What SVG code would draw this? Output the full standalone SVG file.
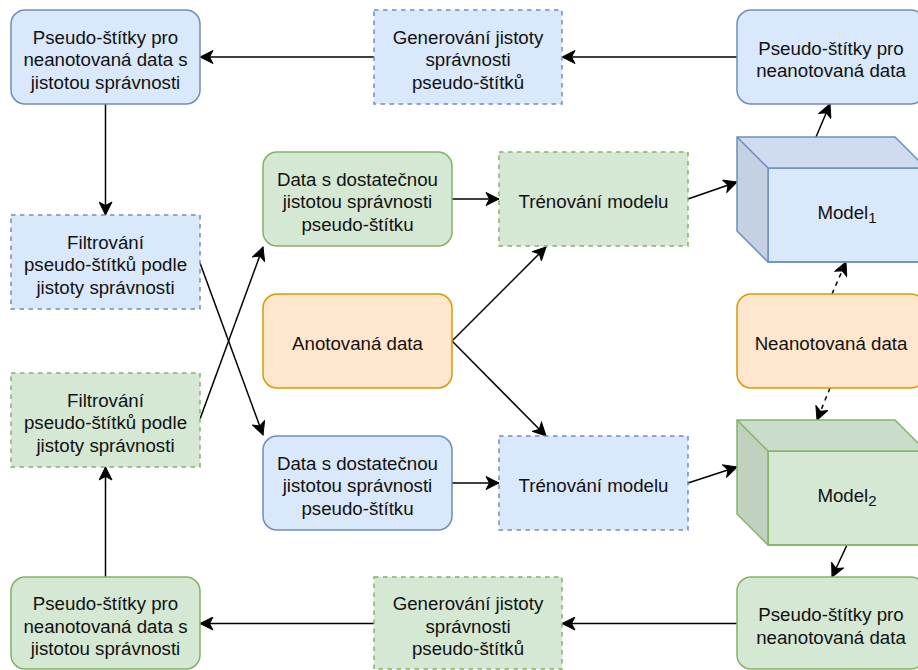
<svg xmlns="http://www.w3.org/2000/svg" width="918" height="670" viewBox="0 0 918 670">
  <style>
    text { font-family: "Liberation Sans", Arial, Helvetica, sans-serif; font-size: 18.7px; fill: #111; text-anchor: middle; }
    .blue { fill: #dae8fc; stroke: #6c8ebf; stroke-width: 1.5; }
    .green { fill: #d5e8d4; stroke: #82b366; stroke-width: 1.5; }
    .orange { fill: #ffe6cc; stroke: #d79b00; stroke-width: 1.5; }
    .dash { stroke-dasharray: 4.5 4.5; }
    .edge { fill: none; stroke: #000; stroke-width: 1.5; marker-end: url(#arrow); }
    .dashed { stroke-dasharray: 4.5 4.5; }
    .blueTop { fill: #cfdcef; } .blueSide { fill: #c4d1e3; }
    .greenTop { fill: #cadcca; } .greenSide { fill: #c0d1bf; }
  </style>
  <defs>
    <marker id="arrow" markerUnits="userSpaceOnUse" viewBox="-14 -7 15 14" refX="0" refY="0" markerWidth="15" markerHeight="14" orient="auto">
      <path d="M0,0 L-13,-6.5 L-9.5,0 L-13,6.5 Z" fill="#000" stroke="#000" stroke-width="1" stroke-dasharray="none"/>
    </marker>
  </defs>

  <!-- connectors -->
  <g id="edges">
    <line class="edge" x1="374" y1="57" x2="200" y2="57"/>
    <line class="edge" x1="737" y1="57" x2="562" y2="57"/>
    <line class="edge" x1="105.5" y1="104" x2="105.5" y2="215"/>
    <line class="edge" x1="200" y1="263" x2="263" y2="435"/>
    <line class="edge" x1="200" y1="419" x2="263" y2="247"/>
    <line class="edge" x1="452" y1="199" x2="499" y2="199"/>
    <line class="edge" x1="452" y1="341" x2="546" y2="247"/>
    <line class="edge" x1="452" y1="341" x2="546" y2="436"/>
    <line class="edge" x1="452" y1="483" x2="499" y2="483"/>
    <line class="edge" x1="688" y1="199" x2="737" y2="182"/>
    <line class="edge" x1="688" y1="483" x2="737" y2="467"/>
    <line class="edge" x1="816" y1="137" x2="830" y2="104"/>
    <line class="edge dashed" x1="832" y1="294" x2="846" y2="262"/>
    <line class="edge dashed" x1="830" y1="388" x2="817" y2="420"/>
    <line class="edge" x1="847" y1="545" x2="832" y2="577"/>
    <line class="edge" x1="737" y1="623.5" x2="562" y2="623.5"/>
    <line class="edge" x1="374" y1="623.5" x2="200" y2="623.5"/>
    <line class="edge" x1="105.5" y1="577" x2="105.5" y2="467"/>
  </g>

  <!-- top row -->
  <g id="pseudo-confident-1">
    <rect class="blue" x="11" y="10" width="189" height="94" rx="14"/>
    <text x="105.5" y="43.5">Pseudo-štítky pro</text>
    <text x="105.5" y="66">neanotovaná data s</text>
    <text x="105.5" y="88.5">jistotou správnosti</text>
  </g>
  <g id="confidence-1">
    <rect class="blue dash" x="374" y="10" width="188" height="94"/>
    <text x="468" y="43.5">Generování jistoty</text>
    <text x="468" y="66">správnosti</text>
    <text x="468" y="88.5">pseudo-štítků</text>
  </g>
  <g id="pseudo-1">
    <rect class="blue" x="737" y="10" width="188" height="94" rx="14"/>
    <text x="831" y="54.75">Pseudo-štítky pro</text>
    <text x="831" y="77.25">neanotovaná data</text>
  </g>

  <!-- filtering -->
  <g id="filter-1">
    <rect class="blue dash" x="11" y="215" width="189" height="94"/>
    <text x="105.5" y="248.5">Filtrování</text>
    <text x="105.5" y="271">pseudo-štítků podle</text>
    <text x="105.5" y="293.5">jistoty správnosti</text>
  </g>
  <g id="filter-2">
    <rect class="green dash" x="11" y="373" width="189" height="94"/>
    <text x="105.5" y="406.5">Filtrování</text>
    <text x="105.5" y="429">pseudo-štítků podle</text>
    <text x="105.5" y="451.5">jistoty správnosti</text>
  </g>

  <!-- selected data -->
  <g id="data-2">
    <rect class="green" x="263" y="152" width="189" height="94" rx="14"/>
    <text x="357.5" y="185.5">Data s dostatečnou</text>
    <text x="357.5" y="208">jistotou správnosti</text>
    <text x="357.5" y="230.5">pseudo-štítku</text>
  </g>
  <g id="data-1">
    <rect class="blue" x="263" y="436" width="189" height="94" rx="14"/>
    <text x="357.5" y="469.5">Data s dostatečnou</text>
    <text x="357.5" y="492">jistotou správnosti</text>
    <text x="357.5" y="514.5">pseudo-štítku</text>
  </g>
  <g id="annotated">
    <rect class="orange" x="263" y="294" width="189" height="94" rx="14"/>
    <text x="357.5" y="350">Anotovaná data</text>
  </g>

  <!-- training -->
  <g id="train-2">
    <rect class="green dash" x="499" y="152" width="189" height="94"/>
    <text x="593.5" y="208">Trénování modelu</text>
  </g>
  <g id="train-1">
    <rect class="blue dash" x="499" y="436" width="189" height="94"/>
    <text x="593.5" y="492">Trénování modelu</text>
  </g>

  <!-- models -->
  <g id="model-1">
    <rect class="blue" x="768" y="168" width="158" height="94" stroke="none"/>
    <polygon class="blueTop" points="737,137 895,137 926,168 768,168"/>
    <polygon class="blueSide" points="737,137 768,168 768,262 737,231"/>
    <path class="blue" fill="none" d="M737,137 L895,137 L926,168 L926,262 L768,262 L737,231 Z M737,137 L768,168 L926,168 M768,168 L768,262" style="fill:none"/>
    <text x="847" y="219">Model<tspan font-size="15" dy="4">1</tspan></text>
  </g>
  <g id="unlabeled">
    <rect class="orange" x="737" y="294" width="188" height="94" rx="14"/>
    <text x="831" y="350">Neanotovaná data</text>
  </g>
  <g id="model-2">
    <rect class="green" x="768" y="451" width="158" height="94" stroke="none"/>
    <polygon class="greenTop" points="737,420 895,420 926,451 768,451"/>
    <polygon class="greenSide" points="737,420 768,451 768,545 737,514"/>
    <path class="green" d="M737,420 L895,420 L926,451 L926,545 L768,545 L737,514 Z M737,420 L768,451 L926,451 M768,451 L768,545" style="fill:none"/>
    <text x="847" y="502">Model<tspan font-size="15" dy="4">2</tspan></text>
  </g>

  <!-- bottom row -->
  <g id="pseudo-2">
    <rect class="green" x="737" y="577" width="188" height="92" rx="14"/>
    <text x="831" y="621.25">Pseudo-štítky pro</text>
    <text x="831" y="643.75">neanotovaná data</text>
  </g>
  <g id="confidence-2">
    <rect class="green dash" x="374" y="577" width="188" height="92"/>
    <text x="468" y="610">Generování jistoty</text>
    <text x="468" y="632.5">správnosti</text>
    <text x="468" y="655">pseudo-štítků</text>
  </g>
  <g id="pseudo-confident-2">
    <rect class="green" x="11" y="577" width="189" height="92" rx="14"/>
    <text x="105.5" y="610">Pseudo-štítky pro</text>
    <text x="105.5" y="632.5">neanotovaná data s</text>
    <text x="105.5" y="655">jistotou správnosti</text>
  </g>
</svg>
